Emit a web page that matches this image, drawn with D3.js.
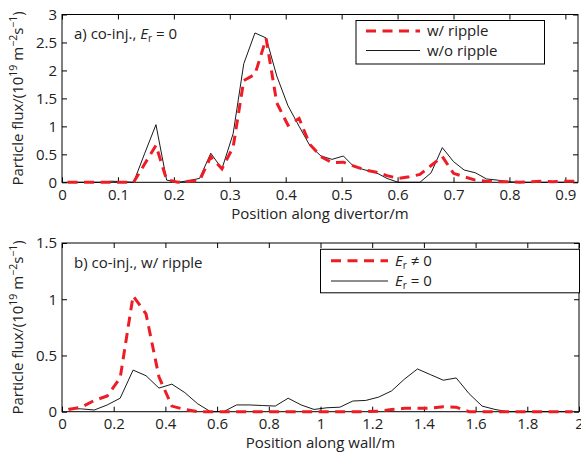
<!DOCTYPE html>
<html><head><meta charset="utf-8">
<script src="https://cdn.jsdelivr.net/npm/d3@7"></script>
<style>
body{margin:0;background:#fff}
text{font-family:"Open Sans",sans-serif;fill:#222}
</style>
</head><body>
<svg id="c" width="581" height="457"></svg>
<script>
// ---------- DATA ----------
const divertorPos = [0.010,0.030,0.049,0.069,0.089,0.109,0.128,0.148,0.168,0.187,0.207,0.227,0.246,0.266,0.286,0.306,0.325,0.345,0.365,0.384,0.404,0.424,0.443,0.463,0.483,0.503,0.522,0.542,0.562,0.581,0.601,0.621,0.640,0.660,0.680,0.700,0.719,0.739,0.759,0.778,0.798,0.818,0.837,0.857,0.877,0.897,0.916];
const divertorWithRipple = [0,0,0,0,0,0,0,0.33,0.66,0.05,0,0.02,0.03,0.46,0.24,0.63,1.82,1.93,2.57,1.42,1.02,1.14,0.68,0.46,0.35,0.36,0.29,0.22,0.18,0.12,0.07,0.10,0.14,0.30,0.46,0.16,0.10,0.04,0.02,0.01,0.01,0,0.01,0.02,0.01,0.02,0.02];
const divertorWithoutRipple = [0,0,0,0,0.02,0.01,0,0.52,1.03,0.04,0,0.03,0.07,0.52,0.24,0.87,2.12,2.67,2.58,1.90,1.37,1.00,0.66,0.47,0.41,0.47,0.28,0.22,0.17,0.07,0,0,0,0.17,0.62,0.37,0.22,0.17,0.06,0.04,0.01,0,0,0,0,0,0];

const wallPos = [0.025,0.075,0.125,0.175,0.225,0.275,0.325,0.375,0.425,0.475,0.525,0.575,0.625,0.675,0.725,0.775,0.825,0.875,0.925,0.975,1.025,1.075,1.125,1.175,1.225,1.275,1.325,1.375,1.425,1.475,1.525,1.575,1.625,1.675,1.725,1.775,1.825,1.875,1.925,1.975];
const wallErNonzero = [0.02,0.04,0.10,0.14,0.30,1.03,0.87,0.31,0.05,0.02,0,0,0,0,0,0,0,0,0,0,0,0,0,0,0.005,0.02,0.03,0.03,0.03,0.045,0.04,0,0,0,0,0,0,0,0,0];
const wallErZero = [0.03,0.025,0.015,0.06,0.12,0.37,0.32,0.21,0.245,0.17,0.07,0,0,0.06,0.06,0.055,0.05,0.12,0.06,0.02,0.035,0.04,0.095,0.10,0.13,0.185,0.29,0.38,0.33,0.28,0.30,0.16,0.05,0.02,0,0,0,0,0,0];

const divertorXTicks = [0,0.1,0.2,0.3,0.4,0.5,0.6,0.7,0.8,0.9];
const divertorXTickLabels = ["0","0.1","0.2","0.3","0.4","0.5","0.6","0.7","0.8","0.9"];
const divertorYTicks = [0,0.5,1,1.5,2,2.5,3];
const divertorYTickLabels = ["0","0.5","1","1.5","2","2.5","3"];
const wallXTicks = [0,0.2,0.4,0.6,0.8,1,1.2,1.4,1.6,1.8,2];
const wallXTickLabels = ["0","0.2","0.4","0.6","0.8","1","1.2","1.4","1.6","1.8","2"];
const wallYTicks = [0,0.5,1,1.5];
const wallYTickLabels = ["0","0.5","1","1.5"];

// ---------- STYLE ----------
const RED = "#ee1c25";
const DASH = "10,6.5";
const FONT = "\"Open Sans\",sans-serif";
const FS = "15px";
const svg = d3.select("#c");

function panel(o){
  const x = d3.scaleLinear().domain(o.xDomain).range([o.left,o.right]);
  const y = d3.scaleLinear().domain(o.yDomain).range([o.bottom,o.top]);
  const g = svg.append("g");
  g.append("rect").attr("x",o.left).attr("y",o.top)
    .attr("width",o.right-o.left).attr("height",o.bottom-o.top)
    .attr("fill","none").attr("stroke","#000").attr("stroke-width",1);

  const tickLen = 5;
  const ax = (gen, tr) => {
    const a = g.append("g").attr("transform",tr).call(gen);
    a.select(".domain").remove();
    a.selectAll(".tick line").attr("stroke","#000").attr("stroke-width",1);
    a.selectAll("text").style("font-family",FONT).style("font-size",FS).attr("fill","#222");
    return a;
  };
  const lbl = (ticks, labels) => (d => labels[ticks.indexOf(d)]);
  ax(d3.axisBottom(x).tickValues(o.xTicks).tickFormat(lbl(o.xTicks,o.xLabels)).tickSize(-tickLen).tickPadding(7),
     `translate(0,${o.bottom})`);
  ax(d3.axisTop(x).tickValues(o.xTicks).tickFormat("").tickSize(-tickLen), `translate(0,${o.top})`);
  ax(d3.axisLeft(y).tickValues(o.yTicks).tickFormat(lbl(o.yTicks,o.yLabels)).tickSize(-tickLen).tickPadding(5),
     `translate(${o.left},0)`);
  ax(d3.axisRight(y).tickValues(o.yTicks).tickFormat("").tickSize(-tickLen), `translate(${o.right},0)`);

  const line = d3.line().x(d=>x(d[0])).y(d=>y(d[1]));
  g.append("path").datum(o.pos.map((p,i)=>[p,o.solid[i]]))
    .attr("d",line).attr("fill","none").attr("stroke","#000").attr("stroke-width",0.9);
  g.append("path").datum(o.pos.map((p,i)=>[p,o.dashed[i]]))
    .attr("d",line).attr("fill","none").attr("stroke",RED).attr("stroke-width",3)
    .attr("stroke-dasharray",DASH);

  g.append("text").attr("x",(o.left+o.right)/2).attr("y",o.bottom+36.5)
    .attr("text-anchor","middle").style("font-size",FS).text(o.xTitle);
  const yt = g.append("text").attr("transform",`translate(23,${(o.top+o.bottom)/2}) rotate(-90)`)
    .attr("text-anchor","middle").style("font-size",FS);
  yt.append("tspan").text("Particle flux/(10");
  yt.append("tspan").attr("dy",-6).style("font-size","10.5px").text("19");
  yt.append("tspan").attr("dy",6).text(" m");
  yt.append("tspan").attr("dy",-6).style("font-size","10.5px").text("\u22122");
  yt.append("tspan").attr("dy",6).text("s");
  yt.append("tspan").attr("dy",-6).style("font-size","10.5px").text("\u22121");
  yt.append("tspan").attr("dy",6).text(")");
  return {g,x,y};
}

function erText(sel, rel){
  sel.append("tspan").style("font-style","italic").text("E");
  sel.append("tspan").attr("dy",3).style("font-size","10px").text("r");
  sel.append("tspan").attr("dy",-3).text(" " + rel + " 0");
}

// ---------- PANEL A ----------
const A = panel({left:62,right:578,top:14.5,bottom:182.3,
  xDomain:[0,0.9226],yDomain:[0,3],
  xTicks:divertorXTicks,xLabels:divertorXTickLabels,yTicks:divertorYTicks,yLabels:divertorYTickLabels,
  pos:divertorPos,solid:divertorWithoutRipple,dashed:divertorWithRipple,
  xTitle:"Position along divertor/m"});
const tA = A.g.append("text").attr("x",74).attr("y",38.5).style("font-size",FS);
tA.append("tspan").text("a) co-inj., ");
erText(tA,"=");

const lgA = A.g.append("g");
lgA.append("rect").attr("x",356).attr("y",20.5).attr("width",188.5).attr("height",43.5)
  .attr("fill","#fff").attr("stroke","#000").attr("stroke-width",1);
lgA.append("line").attr("x1",366).attr("x2",420).attr("y1",31).attr("y2",31)
  .attr("stroke",RED).attr("stroke-width",3).attr("stroke-dasharray",DASH);
lgA.append("line").attr("x1",366).attr("x2",420).attr("y1",50.5).attr("y2",50.5)
  .attr("stroke","#000").attr("stroke-width",0.9);
lgA.append("text").attr("x",427).attr("y",36).style("font-size",FS).text("w/ ripple");
lgA.append("text").attr("x",427).attr("y",55.5).style("font-size",FS).text("w/o ripple");

// ---------- PANEL B ----------
const B = panel({left:62,right:579,top:243,bottom:411.7,
  xDomain:[0,2],yDomain:[0,1.5],
  xTicks:wallXTicks,xLabels:wallXTickLabels,yTicks:wallYTicks,yLabels:wallYTickLabels,
  pos:wallPos,solid:wallErZero,dashed:wallErNonzero,
  xTitle:"Position along wall/m"});
B.g.append("text").attr("x",74).attr("y",268).style("font-size",FS).text("b) co-inj., w/ ripple");

const lgB = B.g.append("g");
lgB.append("rect").attr("x",320.5).attr("y",249.3).attr("width",259).attr("height",43.5)
  .attr("fill","#fff").attr("stroke","#000").attr("stroke-width",1);
lgB.append("line").attr("x1",331).attr("x2",388).attr("y1",260.7).attr("y2",260.7)
  .attr("stroke",RED).attr("stroke-width",3).attr("stroke-dasharray",DASH);
lgB.append("line").attr("x1",331).attr("x2",388).attr("y1",281).attr("y2",281)
  .attr("stroke","#000").attr("stroke-width",0.9);
const lb1 = lgB.append("text").attr("x",395).attr("y",266).style("font-size",FS);
erText(lb1,"\u2260");
const lb2 = lgB.append("text").attr("x",395).attr("y",286.3).style("font-size",FS);
erText(lb2,"=");
</script>
</body></html>
